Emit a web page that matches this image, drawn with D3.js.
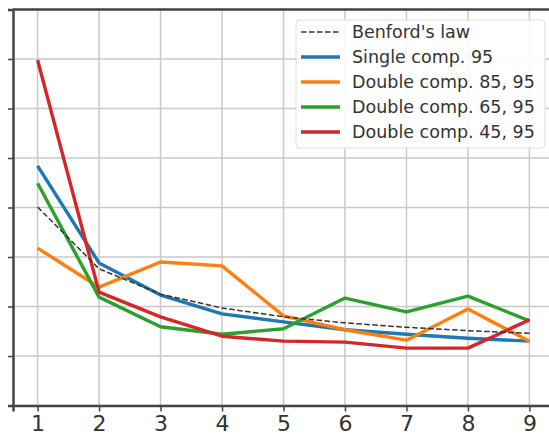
<!DOCTYPE html>
<html>
<head>
<meta charset="utf-8">
<script src="https://cdn.jsdelivr.net/npm/d3@7"></script>
<style>
  body { margin: 0; background: #fff; }
  svg { display: block; font-family: "DejaVu Sans", sans-serif; }
</style>
</head>
<body>
<svg id="chart"></svg>
<script>
// first digit 1..9
const digits = [1, 2, 3, 4, 5, 6, 7, 8, 9];
const benford = digits.map(d => Math.log10(1 + 1 / d));
const single95 = [0.384, 0.188, 0.123, 0.085, 0.069, 0.053, 0.044, 0.036, 0.030];
const double85 = [0.218, 0.139, 0.190, 0.182, 0.081, 0.053, 0.032, 0.095, 0.030];
const double65 = [0.349, 0.119, 0.059, 0.044, 0.055, 0.117, 0.089, 0.121, 0.071];
const double45 = [0.598, 0.129, 0.079, 0.040, 0.030, 0.028, 0.016, 0.016, 0.073];
const seriesNames = ["Benford's law", "Single comp. 95", "Double comp. 85, 95", "Double comp. 65, 95", "Double comp. 45, 95"];
const yTicks = [-0.1, 0, 0.1, 0.2, 0.3, 0.4, 0.5, 0.6, 0.7];

const series = [
    { name: seriesNames[0], values: benford, color: "#333", width: 1.5, dash: "5.5,2.5" },
    { name: seriesNames[1], values: single95, color: "#1f77b4", width: 3.4 },
    { name: seriesNames[2], values: double85, color: "#ff7f0e", width: 3.4 },
    { name: seriesNames[3], values: double65, color: "#2ca02c", width: 3.4 },
    { name: seriesNames[4], values: double45, color: "#d62728", width: 3.4 }
];

const svg = d3.select("#chart")
    .attr("width", 549)
    .attr("height", 435);

const x = d3.scaleLinear().domain([0.6, 9.4]).range([13, 554]);
const y = d3.scaleLinear().domain([-0.1, 0.7]).range([405.5, 9.5]);

// grid
svg.append("g").selectAll("line").data(digits).join("line")
    .attr("x1", d => x(d)).attr("x2", d => x(d))
    .attr("y1", y(0.7)).attr("y2", y(-0.1))
    .attr("stroke", "#c8c8c8").attr("stroke-width", 1.5);
svg.append("g").selectAll("line").data(yTicks).join("line")
    .attr("x1", x(0.6)).attr("x2", x(9.4))
    .attr("y1", d => y(d)).attr("y2", d => y(d))
    .attr("stroke", "#c8c8c8").attr("stroke-width", 1.5);

// lines
const line = d3.line().x((d, i) => x(digits[i])).y(d => y(d));
series.slice(1).concat(series[0]).forEach(s => {
    svg.append("path")
        .datum(s.values)
        .attr("d", line)
        .attr("fill", "none")
        .attr("stroke", s.color)
        .attr("stroke-width", s.width)
        .attr("stroke-dasharray", s.dash || null)
        .attr("stroke-linejoin", "round");
});

// axes
const xAxis = svg.append("g")
    .attr("transform", `translate(0,${y(-0.1)})`)
    .call(d3.axisBottom(x).tickValues(digits).tickSize(6).tickPadding(4).tickFormat(d3.format("d")));
xAxis.selectAll("text").attr("font-size", 22).attr("fill", "#333").attr("font-family", "DejaVu Sans");

const yAxis = svg.append("g")
    .attr("transform", `translate(${x(0.6)},0)`)
    .call(d3.axisLeft(y).tickValues(yTicks).tickSize(5).tickFormat(""));

[xAxis, yAxis].forEach(g => {
    g.select(".domain").attr("stroke", "#444").attr("stroke-width", 2.5);
    g.selectAll(".tick line").attr("stroke", "#444").attr("stroke-width", 1.5);
});
svg.append("line")
    .attr("x1", x(0.6)).attr("x2", x(9.4))
    .attr("y1", y(0.7)).attr("y2", y(0.7))
    .attr("stroke", "#444").attr("stroke-width", 2.5);

// legend
const legend = svg.append("g").attr("transform", "translate(296,20)");
legend.append("rect")
    .attr("width", 249).attr("height", 128)
    .attr("rx", 4)
    .attr("fill", "#fff").attr("fill-opacity", 0.9)
    .attr("stroke", "#ddd");
const rows = legend.selectAll("g.row").data(series).join("g")
    .attr("class", "row")
    .attr("transform", (d, i) => `translate(0,${12 + i * 25})`);
rows.append("line")
    .attr("x1", 5).attr("x2", 44)
    .attr("stroke", d => d.color)
    .attr("stroke-width", d => d.width)
    .attr("stroke-dasharray", d => d.dash || null);
rows.append("text")
    .attr("x", 56).attr("dy", "0.36em")
    .attr("font-size", 17.5)
    .attr("fill", "#333")
    .text(d => d.name);
</script>
</body>
</html>
